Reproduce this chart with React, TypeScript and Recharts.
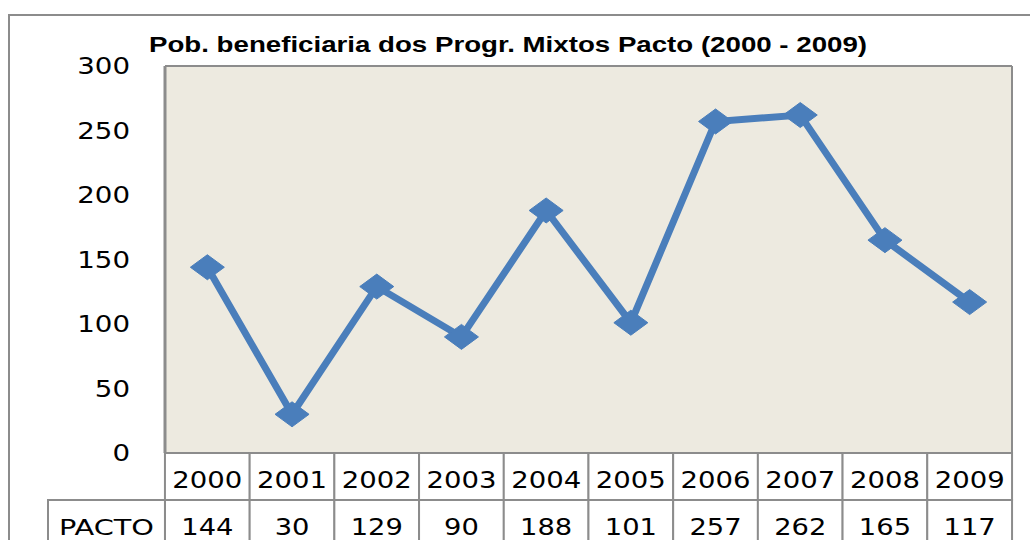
import { LineChart, Line, CartesianGrid, XAxis, YAxis } from "recharts";

const years = ["2000", "2001", "2002", "2003", "2004", "2005", "2006", "2007", "2008", "2009"];
const pacto = [144, 30, 129, 90, 188, 101, 257, 262, 165, 117];
const yTicks = [0, 50, 100, 150, 200, 250, 300];
const seriesName = "PACTO";
const title = "Pob. beneficiaria dos Progr. Mixtos Pacto (2000 - 2009)";

const data = years.map((y, i) => ({ year: y, pacto: pacto[i] }));

const GRAY = "#8c8c8c";
const BLUE = "#4a7ebb";
const FONT = "'DejaVu Sans', sans-serif";
const CHART_W = 1030;
const Y_AXIS_W = 165;
const RIGHT_M = 17;
const BAND = (CHART_W - Y_AXIS_W - RIGHT_M) / years.length;

function YTick(props: any) {
  const { x, y, payload } = props;
  const s = String(payload.value);
  return (
    <text x={x} y={y + 8} textAnchor="end" fontFamily={FONT} fontSize={23} fill="#000"
      textLength={s.length * 17.6} lengthAdjust="spacingAndGlyphs">
      {s}
    </text>
  );
}

function TableTick(props: any) {
  const { x, y, payload, index } = props;
  const left = x - BAND / 2;
  const rowH = 47;
  const val = String(pacto[index]);
  return (
    <g>
      <rect x={left} y={y} width={BAND} height={rowH} fill="#fff" stroke={GRAY} strokeWidth={2} />
      <text x={x} y={y + 35} textAnchor="middle" fontFamily={FONT} fontSize={23} fill="#000"
        textLength={70} lengthAdjust="spacingAndGlyphs">
        {payload.value}
      </text>
      <rect x={left} y={y + rowH} width={BAND} height={90} fill="#fff" stroke={GRAY} strokeWidth={2} />
      <text x={x} y={y + 82} textAnchor="middle" fontFamily={FONT} fontSize={23} fill="#000"
        textLength={val.length * 17.4} lengthAdjust="spacingAndGlyphs">
        {val}
      </text>
      {index === 0 && (
        <g>
          <rect x={48} y={y + rowH} width={left - 48} height={90} fill="#fff" stroke={GRAY} strokeWidth={2} />
          <text x={(48 + left) / 2} y={y + 82} textAnchor="middle" fontFamily={FONT} fontSize={22} fill="#000"
            textLength={95} lengthAdjust="spacingAndGlyphs">
            {seriesName}
          </text>
        </g>
      )}
    </g>
  );
}

function Diamond(props: any) {
  const { cx, cy } = props;
  if (cx == null || cy == null) return null;
  const dx = 17;
  const dy = 12.5;
  return (
    <polygon
      points={`${cx - dx},${cy} ${cx},${cy - dy} ${cx + dx},${cy} ${cx},${cy + dy}`}
      fill={BLUE}
      stroke={BLUE}
      strokeWidth={1}
    />
  );
}

export default function App() {
  return (
    <div style={{ position: "fixed", left: 0, top: 0, width: 1030, height: 540, overflow: "hidden", background: "#fff" }}>
      <div style={{ position: "absolute", left: 8, top: 14, width: 1100, height: 600, border: `2px solid ${GRAY}` }} />
      <svg style={{ position: "absolute", left: 0, top: 0 }} width={1030} height={60}>
        <text x={149} y={52} fontFamily="'Liberation Sans', Arial, sans-serif" fontWeight="bold" fontSize={22}
          fill="#000" textLength={718} lengthAdjust="spacingAndGlyphs">
          {title}
        </text>
      </svg>
      <div style={{ position: "absolute", left: 0, top: 0 }}>
        <LineChart width={CHART_W} height={600} data={data} margin={{ top: 66, right: RIGHT_M, bottom: 0, left: 0 }}>
          <CartesianGrid vertical={false} stroke={GRAY} strokeWidth={2} fill="#edeae0" fillOpacity={1} />
          <XAxis
            dataKey="year"
            scale="band"
            height={147}
            axisLine={false}
            tickLine={false}
            tickSize={0}
            tickMargin={0}
            interval={0}
            tick={<TableTick />}
          />
          <YAxis
            yAxisId="left"
            width={Y_AXIS_W}
            domain={[0, 300]}
            ticks={yTicks}
            interval={0}
            tickLine={false}
            tickSize={0}
            tickMargin={35}
            axisLine={{ stroke: GRAY, strokeWidth: 3 }}
            tick={<YTick />}
          />
          <YAxis
            yAxisId="right"
            orientation="right"
            width={1}
            domain={[0, 300]}
            tick={false}
            tickLine={false}
            axisLine={{ stroke: GRAY, strokeWidth: 2 }}
          />
          <Line
            yAxisId="left"
            dataKey="pacto"
            stroke={BLUE}
            strokeWidth={7}
            dot={<Diamond />}
            activeDot={false}
            isAnimationActive={false}
          />
        </LineChart>
      </div>
    </div>
  );
}
